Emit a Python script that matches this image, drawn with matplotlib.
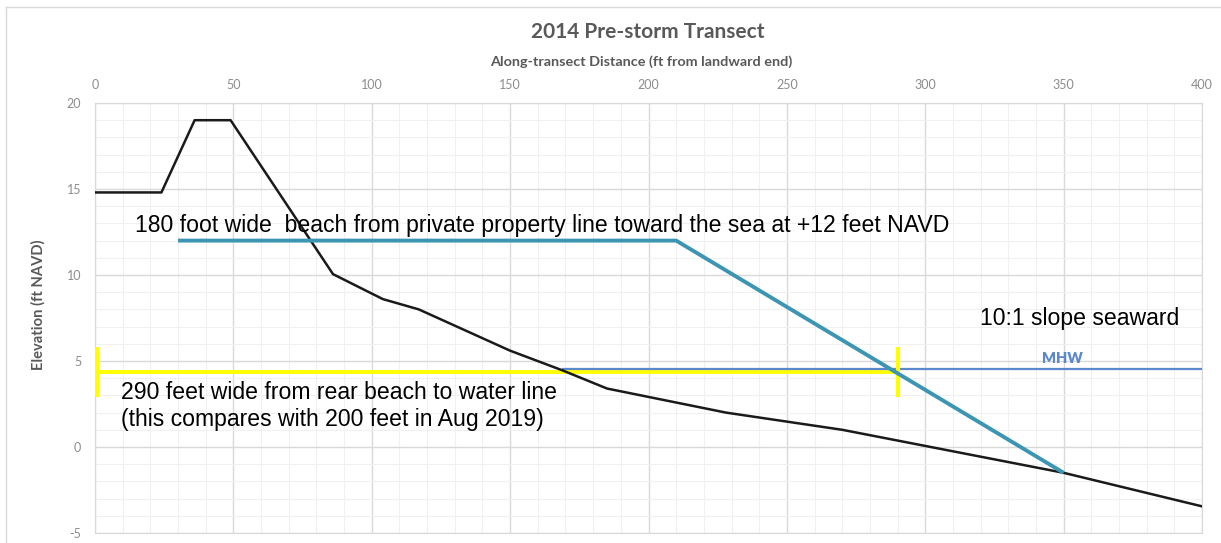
import matplotlib.pyplot as plt
from matplotlib.lines import Line2D
from matplotlib.ticker import MultipleLocator

plt.rcParams['axes.unicode_minus'] = False

# profile
dist = [0, 24, 36, 49, 86, 104, 117, 150, 169, 185, 228, 270, 350, 400]
elev = [14.8, 14.8, 19.0, 19.0, 10.05, 8.6, 8.0, 5.6, 4.45, 3.4, 2.0, 1.0, -1.5, -3.45]

beach_x = [30, 210, 350]
beach_y = [12, 12, -1.5]

mhw_x = [169, 400]
mhw_y = [4.53, 4.53]

width_x = [0, 290]
width_y = [4.34, 4.34]
bar_lo, bar_hi = 2.9, 5.8

grid_col = '#d9d9d9'
minor_col = '#f0f0f0'
gray = '#595959'

fig = plt.figure(figsize=(12.21, 5.43), dpi=100)
ax = fig.add_axes([95/1221, 10/543, 1107/1221, 430/543])

ax.plot(dist, elev, color='#1a1a1a', lw=1.8, zorder=5)
ax.plot(mhw_x, mhw_y, color='#5B87CC', lw=1.6, zorder=4)
ax.plot(width_x, width_y, color='#FFFF00', lw=2.8, zorder=3, solid_capstyle='butt')
ax.plot([0.7, 0.7], [bar_lo, bar_hi], color='#FFFF00', lw=3, zorder=3, solid_capstyle='butt')
ax.plot([290, 290], [bar_lo, bar_hi], color='#FFFF00', lw=3, zorder=6, solid_capstyle='butt')
ax.plot(beach_x, beach_y, color='#3B95B3', lw=2.8, zorder=6, solid_capstyle='butt')

ax.set_xlim(0, 400)
ax.set_ylim(-5, 20)
ax.xaxis.set_major_locator(MultipleLocator(50))
ax.xaxis.set_minor_locator(MultipleLocator(10))
ax.yaxis.set_major_locator(MultipleLocator(5))
ax.yaxis.set_minor_locator(MultipleLocator(1))
ax.grid(which='major', color=grid_col, lw=1.0)
ax.grid(which='minor', color=minor_col, lw=0.8)
ax.set_axisbelow(True)
ax.xaxis.tick_top()
ax.tick_params(which='both', length=0)
ax.tick_params(axis='x', pad=9, labelsize=9, labelcolor='#8c8c8c')
ax.tick_params(axis='y', pad=10, labelsize=9, labelcolor='#8c8c8c')
for lab in ax.get_xticklabels() + ax.get_yticklabels():
    lab.set_family('Lato')
for s in ax.spines.values():
    s.set_color(grid_col)

txt = dict(family='Liberation Sans', fontsize=16.6, color='black', va='center', zorder=7)
ax.text(14.5, 12.9, '180 foot wide  beach from private property line toward the sea at +12 feet NAVD', **txt)
ax.text(9.4, 2.38, '290 feet wide from rear beach to water line\n(this compares with 200 feet in Aug 2019)',
        linespacing=1.2, **txt)
ax.text(319.8, 7.5, '10:1 slope seaward', **txt)
ax.text(349.4, 5.17, 'MHW', family='Lato', fontweight='heavy', fontsize=10.5, color='#5B87CC',
        ha='center', va='center')

fig.text(648/1221, 1 - 32/543, '2014 Pre-storm Transect', family='Lato', fontweight='bold',
         fontsize=15, color=gray, ha='center', va='center')
fig.text(641/1221, 1 - 62/543, 'Along-transect Distance (ft from landward end)', family='Lato',
         fontweight='bold', fontsize=10.4, color=gray, ha='center', va='center')
fig.text(38/1221, 1 - 305/543, 'Elevation (ft NAVD)', family='Lato', fontweight='bold',
         fontsize=10.6, color=gray, ha='center', va='center', rotation=90)

# chart frame
fig.add_artist(Line2D([6/1221, 1], [1 - 7/543] * 2, color=grid_col, lw=1))
fig.add_artist(Line2D([6/1221] * 2, [0, 1 - 7/543], color=grid_col, lw=1))

fig.savefig('out.png', dpi=100)
